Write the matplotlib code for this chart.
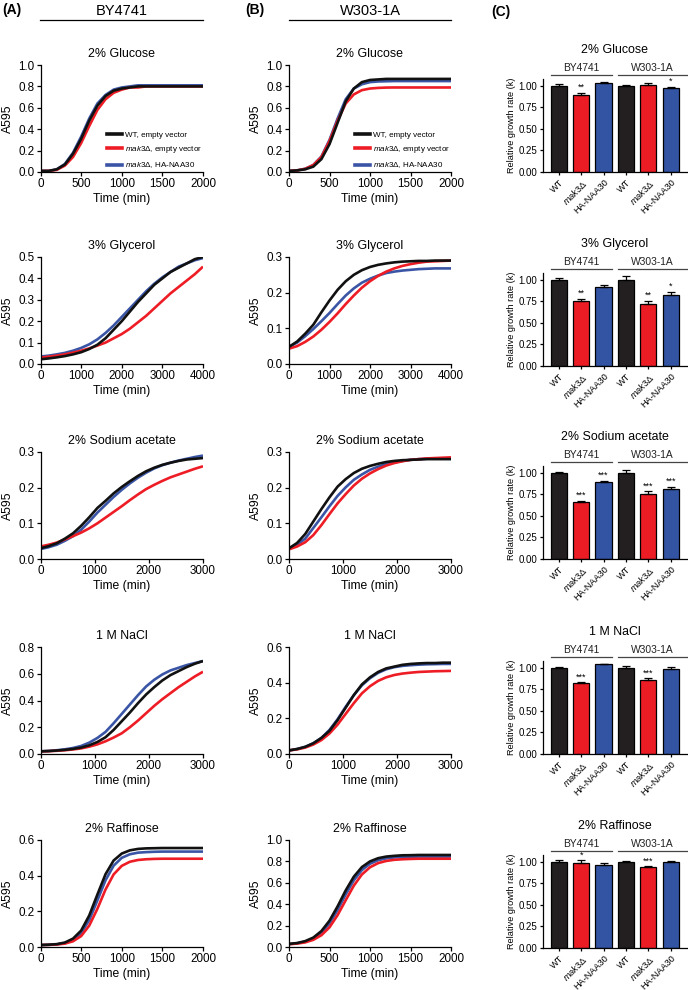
import numpy as np
import matplotlib.pyplot as plt
from matplotlib.ticker import FormatStrFormatter
from matplotlib.lines import Line2D

plt.rcParams['font.family'] = ['Liberation Sans', 'DejaVu Sans']
plt.rcParams['mathtext.fontset'] = 'custom'
plt.rcParams['mathtext.rm'] = 'Liberation Sans'
plt.rcParams['mathtext.it'] = 'Liberation Sans:italic'

# ---- growth curves (A595), sampled every 1/20 of the time range ----
t2000 = np.linspace(0, 2000, 21)
t3000 = np.linspace(0, 3000, 21)
t4000 = np.linspace(0, 4000, 21)

glu_by_wt = [0.01, 0.01, 0.025, 0.07, 0.17, 0.31, 0.48, 0.62, 0.71, 0.76, 0.78, 0.79, 0.80, 0.80, 0.80, 0.80, 0.80, 0.80, 0.80, 0.80, 0.80]
glu_by_mak = [0.01, 0.01, 0.02, 0.06, 0.14, 0.27, 0.43, 0.58, 0.68, 0.74, 0.77, 0.79, 0.79, 0.80, 0.80, 0.80, 0.80, 0.80, 0.80, 0.80, 0.80]
glu_by_ha = [0.01, 0.01, 0.025, 0.075, 0.18, 0.33, 0.50, 0.64, 0.72, 0.77, 0.79, 0.80, 0.81, 0.81, 0.81, 0.81, 0.81, 0.81, 0.81, 0.81, 0.81]
glu_w3_wt = [0.01, 0.015, 0.025, 0.05, 0.12, 0.26, 0.46, 0.66, 0.78, 0.84, 0.86, 0.865, 0.87, 0.87, 0.87, 0.87, 0.87, 0.87, 0.87, 0.87, 0.87]
glu_w3_mak = [0.01, 0.015, 0.03, 0.065, 0.14, 0.29, 0.48, 0.64, 0.725, 0.765, 0.78, 0.786, 0.789, 0.79, 0.79, 0.79, 0.79, 0.79, 0.79, 0.79, 0.79]
glu_w3_ha = [0.01, 0.015, 0.03, 0.065, 0.145, 0.30, 0.50, 0.68, 0.78, 0.82, 0.84, 0.846, 0.848, 0.85, 0.85, 0.85, 0.85, 0.85, 0.85, 0.85, 0.85]

gly_by_wt = [0.022, 0.026, 0.031, 0.037, 0.045, 0.055, 0.07, 0.09, 0.12, 0.16, 0.20, 0.245, 0.29, 0.33, 0.37, 0.40, 0.43, 0.45, 0.47, 0.49, 0.50]
gly_by_mak = [0.03, 0.034, 0.039, 0.045, 0.053, 0.062, 0.073, 0.086, 0.10, 0.12, 0.14, 0.165, 0.195, 0.225, 0.26, 0.295, 0.33, 0.36, 0.39, 0.42, 0.455]
gly_by_ha = [0.035, 0.039, 0.045, 0.052, 0.062, 0.075, 0.092, 0.115, 0.145, 0.18, 0.22, 0.26, 0.30, 0.34, 0.375, 0.405, 0.43, 0.455, 0.47, 0.485, 0.495]
gly_w3_wt = [0.048, 0.063, 0.085, 0.11, 0.145, 0.178, 0.208, 0.232, 0.25, 0.263, 0.272, 0.278, 0.282, 0.285, 0.287, 0.288, 0.289, 0.289, 0.29, 0.29, 0.29]
gly_w3_mak = [0.043, 0.05, 0.062, 0.077, 0.096, 0.118, 0.142, 0.168, 0.192, 0.214, 0.232, 0.247, 0.259, 0.268, 0.275, 0.28, 0.284, 0.287, 0.288, 0.289, 0.29]
gly_w3_ha = [0.048, 0.06, 0.078, 0.098, 0.12, 0.143, 0.168, 0.192, 0.212, 0.228, 0.239, 0.248, 0.255, 0.259, 0.262, 0.264, 0.266, 0.267, 0.268, 0.268, 0.268]

ace_by_wt = [0.030, 0.036, 0.044, 0.057, 0.072, 0.093, 0.117, 0.143, 0.163, 0.184, 0.202, 0.218, 0.233, 0.246, 0.256, 0.264, 0.27, 0.275, 0.279, 0.281, 0.283]
ace_by_mak = [0.035, 0.040, 0.046, 0.055, 0.064, 0.074, 0.086, 0.10, 0.116, 0.132, 0.148, 0.165, 0.181, 0.196, 0.208, 0.219, 0.229, 0.237, 0.245, 0.253, 0.26]
ace_by_ha = [0.028, 0.033, 0.04, 0.051, 0.064, 0.082, 0.105, 0.13, 0.152, 0.174, 0.194, 0.212, 0.228, 0.242, 0.254, 0.263, 0.27, 0.276, 0.281, 0.286, 0.29]
ace_w3_wt = [0.03, 0.045, 0.07, 0.105, 0.14, 0.173, 0.203, 0.224, 0.241, 0.253, 0.261, 0.267, 0.272, 0.275, 0.277, 0.278, 0.279, 0.28, 0.28, 0.28, 0.28]
ace_w3_mak = [0.027, 0.035, 0.047, 0.067, 0.095, 0.126, 0.156, 0.182, 0.206, 0.225, 0.24, 0.252, 0.262, 0.269, 0.274, 0.278, 0.28, 0.282, 0.283, 0.284, 0.285]
ace_w3_ha = [0.03, 0.04, 0.057, 0.087, 0.117, 0.148, 0.177, 0.201, 0.222, 0.237, 0.25, 0.259, 0.266, 0.271, 0.275, 0.278, 0.28, 0.281, 0.282, 0.282, 0.282]

nacl_by_wt = [0.02, 0.022, 0.026, 0.031, 0.038, 0.048, 0.065, 0.09, 0.125, 0.18, 0.245, 0.31, 0.38, 0.445, 0.50, 0.55, 0.59, 0.62, 0.65, 0.675, 0.695]
nacl_by_mak = [0.02, 0.021, 0.024, 0.028, 0.034, 0.042, 0.055, 0.072, 0.095, 0.123, 0.155, 0.20, 0.25, 0.305, 0.36, 0.41, 0.455, 0.50, 0.54, 0.58, 0.615]
nacl_by_ha = [0.02, 0.023, 0.028, 0.035, 0.045, 0.06, 0.085, 0.12, 0.165, 0.23, 0.30, 0.37, 0.44, 0.505, 0.555, 0.595, 0.625, 0.645, 0.665, 0.68, 0.695]
nacl_w3_wt = [0.02, 0.028, 0.04, 0.06, 0.09, 0.13, 0.19, 0.26, 0.33, 0.39, 0.43, 0.46, 0.48, 0.49, 0.50, 0.505, 0.508, 0.51, 0.51, 0.512, 0.512]
nacl_w3_mak = [0.02, 0.026, 0.036, 0.053, 0.078, 0.115, 0.165, 0.225, 0.285, 0.34, 0.38, 0.41, 0.43, 0.443, 0.451, 0.456, 0.46, 0.462, 0.464, 0.465, 0.466]
nacl_w3_ha = [0.02, 0.028, 0.04, 0.06, 0.09, 0.135, 0.195, 0.265, 0.33, 0.385, 0.425, 0.455, 0.475, 0.487, 0.494, 0.498, 0.501, 0.503, 0.504, 0.505, 0.505]

raf_by_wt = [0.011, 0.013, 0.016, 0.025, 0.047, 0.092, 0.177, 0.294, 0.408, 0.485, 0.524, 0.542, 0.55, 0.553, 0.554, 0.555, 0.555, 0.555, 0.555, 0.555, 0.555]
raf_by_mak = [0.011, 0.012, 0.014, 0.019, 0.032, 0.061, 0.12, 0.214, 0.322, 0.407, 0.455, 0.478, 0.488, 0.492, 0.494, 0.495, 0.495, 0.495, 0.495, 0.495, 0.495]
raf_by_ha = [0.011, 0.012, 0.015, 0.022, 0.039, 0.078, 0.151, 0.261, 0.374, 0.456, 0.50, 0.52, 0.529, 0.532, 0.534, 0.535, 0.535, 0.535, 0.535, 0.535, 0.535]
raf_w3_wt = [0.029, 0.037, 0.055, 0.088, 0.149, 0.246, 0.38, 0.529, 0.657, 0.747, 0.80, 0.83, 0.845, 0.852, 0.857, 0.858, 0.86, 0.86, 0.86, 0.86, 0.86]
raf_w3_mak = [0.026, 0.032, 0.043, 0.067, 0.11, 0.184, 0.298, 0.437, 0.573, 0.678, 0.745, 0.784, 0.804, 0.815, 0.82, 0.823, 0.825, 0.825, 0.825, 0.825, 0.825]
raf_w3_ha = [0.027, 0.035, 0.05, 0.079, 0.131, 0.22, 0.345, 0.491, 0.623, 0.719, 0.778, 0.811, 0.828, 0.837, 0.841, 0.843, 0.845, 0.845, 0.845, 0.845, 0.845]

# ---- relative growth rate (k): BY WT, mak3, HA | W303 WT, mak3, HA ----
glu_k = [1.00, 0.90, 1.03, 1.00, 1.01, 0.97]
glu_err = [0.02, 0.02, 0.015, 0.015, 0.02, 0.02]
glu_sig = ['', '**', '', '', '', '*']
gly_k = [1.00, 0.76, 0.92, 1.00, 0.72, 0.83]
gly_err = [0.02, 0.02, 0.025, 0.04, 0.035, 0.03]
gly_sig = ['', '**', '', '', '**', '*']
ace_k = [1.00, 0.66, 0.89, 1.00, 0.76, 0.81]
ace_err = [0.015, 0.015, 0.02, 0.03, 0.025, 0.03]
ace_sig = ['', '***', '***', '', '***', '***']
nacl_k = [1.00, 0.82, 1.04, 1.00, 0.86, 0.99]
nacl_err = [0.015, 0.015, 0.01, 0.02, 0.02, 0.025]
nacl_sig = ['', '***', '', '', '***', '']
raf_k = [1.00, 0.99, 0.96, 1.00, 0.94, 1.00]
raf_err = [0.02, 0.03, 0.025, 0.01, 0.01, 0.015]
raf_sig = ['', '*', '', '', '***', '']

conditions = ['2% Glucose', '3% Glycerol', '2% Sodium acetate', '1 M NaCl', '2% Raffinose']
bar_ticklabels = ['WT', r'$\it{mak3}$Δ', 'HA-NAA30'] * 2
legend_labels = ['WT, empty vector', r'$\it{mak3}$Δ, empty vector', r'$\it{mak3}$Δ, HA-NAA30']

BLACK = '#111111'
RED = '#ee1c25'
BLUE = '#3a55a5'
BAR_COLORS = ['#231f20', '#ec1c24', '#3353a3'] * 2

rows = [
    (t2000, 1.0, 0.2, 500, (glu_by_wt, glu_by_mak, glu_by_ha), 1.0, 0.2, (glu_w3_wt, glu_w3_mak, glu_w3_ha), glu_k, glu_err, glu_sig),
    (t4000, 0.5, 0.1, 1000, (gly_by_wt, gly_by_mak, gly_by_ha), 0.3, 0.1, (gly_w3_wt, gly_w3_mak, gly_w3_ha), gly_k, gly_err, gly_sig),
    (t3000, 0.3, 0.1, 1000, (ace_by_wt, ace_by_mak, ace_by_ha), 0.3, 0.1, (ace_w3_wt, ace_w3_mak, ace_w3_ha), ace_k, ace_err, ace_sig),
    (t3000, 0.8, 0.2, 1000, (nacl_by_wt, nacl_by_mak, nacl_by_ha), 0.6, 0.2, (nacl_w3_wt, nacl_w3_mak, nacl_w3_ha), nacl_k, nacl_err, nacl_sig),
    (t2000, 0.6, 0.2, 500, (raf_by_wt, raf_by_mak, raf_by_ha), 1.0, 0.2, (raf_w3_wt, raf_w3_mak, raf_w3_ha), raf_k, raf_err, raf_sig),
]

W, H = 688, 990
fig = plt.figure(figsize=(W / 100, H / 100), dpi=100)


def style_axes(ax, lw=0.9):
    for s in ['top', 'right']:
        ax.spines[s].set_visible(False)
    for s in ['left', 'bottom']:
        ax.spines[s].set_linewidth(lw)
    ax.tick_params(width=lw, length=3, direction='out', pad=1.5)


def curve_panel(ax, title, t, curves, ymax, ystep, xstep, legend=False):
    wt, mak, ha = curves
    ax.plot(t, ha, color=BLUE, lw=1.9, solid_capstyle='butt')
    ax.plot(t, mak, color=RED, lw=1.9, solid_capstyle='butt')
    ax.plot(t, wt, color=BLACK, lw=1.9, solid_capstyle='butt')
    ax.set_xlim(0, t[-1])
    ax.set_ylim(0, ymax)
    ax.set_xticks(np.arange(0, t[-1] + 1, xstep))
    ax.set_yticks(np.arange(0, ymax + 1e-6, ystep))
    ax.yaxis.set_major_formatter(FormatStrFormatter('%.1f'))
    style_axes(ax)
    ax.tick_params(labelsize=8.4)
    ax.set_xlabel('Time (min)', fontsize=8.7, labelpad=2)
    ax.set_ylabel('A595', fontsize=8.7, labelpad=3)
    ax.set_title(title, fontsize=8.9, pad=6)
    if legend:
        handles = [Line2D([], [], color=c, lw=2.6) for c in (BLACK, RED, BLUE)]
        ax.legend(handles, legend_labels, loc='lower left', bbox_to_anchor=(0.37, -0.045),
                  fontsize=5.8, frameon=False, handlelength=1.8, handletextpad=0.4,
                  labelspacing=0.65, borderpad=0.3)


def bar_panel(ax, title, k, err, sig):
    x = np.arange(len(k))
    ax.bar(x, k, width=0.72, color=BAR_COLORS, edgecolor='black', linewidth=0.9, zorder=2)
    ax.errorbar(x, k, yerr=[np.zeros(len(k)), err], fmt='none', ecolor='black',
                elinewidth=0.9, capsize=2.6, capthick=0.9, zorder=3)
    for xi, m, e, s in zip(x, k, err, sig):
        if s:
            ax.text(xi, m + e + 0.01, s, ha='center', va='bottom', fontsize=6.5)
    ax.set_xlim(-0.7, 5.7)
    ax.set_ylim(0, 1.08)
    ax.set_yticks([0, 0.25, 0.5, 0.75, 1.0])
    ax.yaxis.set_major_formatter(FormatStrFormatter('%.2f'))
    ax.set_xticks(x)
    ax.set_xticklabels(bar_ticklabels, rotation=45, ha='right', rotation_mode='anchor')
    style_axes(ax)
    ax.tick_params(labelsize=7, length=2.5)
    ax.tick_params(axis='x', labelsize=6.6)
    ax.set_ylabel('Relative growth rate (k)', fontsize=6.6, labelpad=2)
    ax.set_title(title, fontsize=8.9, pad=19)
    for (x0, x1, name) in [(-0.36, 2.36, 'BY4741'), (2.64, 5.7, 'W303-1A')]:
        ax.plot([x0, x1], [1.13, 1.13], color='#444444', lw=0.9, clip_on=False)
        ax.text((x0 + x1) / 2, 1.155, name, ha='center', va='bottom', fontsize=7.4, color='#222222')


colA = (40.5 / W, 162.5 / W)
colB = (289 / W, 162 / W)
colC = (543 / W, 143.5 / W)
bottoms_ab = [172, 364, 559, 754, 947]
bottoms_c = [172, 366, 559, 754, 948]

for i, (t, ymax_a, ystep_a, xstep, curves_a, ymax_b, ystep_b, curves_b, k, err, sig) in enumerate(rows):
    axa = fig.add_axes([colA[0], 1 - bottoms_ab[i] / H, colA[1], 107 / H])
    curve_panel(axa, conditions[i], t, curves_a, ymax_a, ystep_a, xstep, legend=(i == 0))
    axb = fig.add_axes([colB[0], 1 - bottoms_ab[i] / H, colB[1], 107 / H])
    curve_panel(axb, conditions[i], t, curves_b, ymax_b, ystep_b, xstep, legend=(i == 0))
    axc = fig.add_axes([colC[0], 1 - bottoms_c[i] / H, colC[1], 93 / H])
    bar_panel(axc, conditions[i], k, err, sig)

# strain headers and panel letters
for x0, x1, name in [(40, 203, 'BY4741'), (289, 451, 'W303-1A')]:
    fig.add_artist(Line2D([x0 / W, x1 / W], [1 - 20 / H, 1 - 20 / H], color='black', lw=0.9))
    fig.text((x0 + x1) / 2 / W, 1 - 11 / H, name, ha='center', va='center', fontsize=10.5)
fig.text(2 / W, 1 - 10 / H, '(A)', ha='left', va='center', fontsize=10, fontweight='bold')
fig.text(245 / W, 1 - 10 / H, '(B)', ha='left', va='center', fontsize=10, fontweight='bold')
fig.text(491 / W, 1 - 12 / H, '(C)', ha='left', va='center', fontsize=10, fontweight='bold')

fig.savefig('out.png', dpi=100)
